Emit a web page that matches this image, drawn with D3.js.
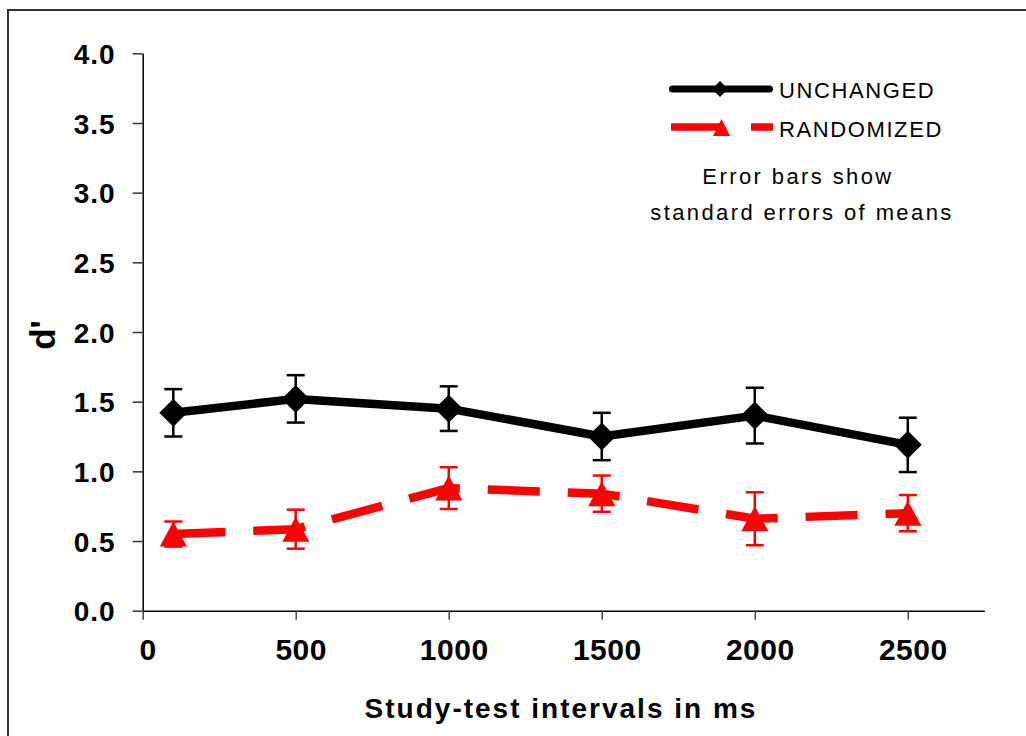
<!DOCTYPE html>
<html>
<head>
<meta charset="utf-8">
<script src="https://cdn.jsdelivr.net/npm/d3@7/dist/d3.min.js"></script>
<style>
  html, body { margin: 0; padding: 0; background: #fff; }
  svg { display: block; }
  text { font-family: "Liberation Sans", Arial, Helvetica, sans-serif; }
</style>
</head>
<body>
<svg id="chart" width="1026" height="736"></svg>
<script>
// Study-test interval (ms) for each condition
const intervals = [100, 500, 1000, 1500, 2000, 2500];
// Mean d' and standard errors, unchanged displays
const unchanged = [1.42, 1.52, 1.45, 1.25, 1.40, 1.19];
const unchangedSE = [0.17, 0.17, 0.16, 0.17, 0.20, 0.195];
// Mean d' and standard errors, randomized displays
const randomized = [0.55, 0.585, 0.88, 0.84, 0.66, 0.70];
const randomizedSE = [0.09, 0.14, 0.15, 0.13, 0.19, 0.13];
// Axis ticks
const xTicks = [0, 500, 1000, 1500, 2000, 2500];
const yTicks = [0, 0.5, 1.0, 1.5, 2.0, 2.5, 3.0, 3.5, 4.0];

const svg = d3.select("#chart");

// Outer frame
svg.append("rect")
  .attr("x", 8).attr("y", 10)
  .attr("width", 1030).attr("height", 740)
  .attr("fill", "#fff").attr("stroke", "#333").attr("stroke-width", 2);

const x = d3.scaleLinear().domain([0, 2750]).range([142.7, 984.3]);
const y = d3.scaleLinear().domain([0, 4]).range([610.7, 53.3]);

// Y axis
const yAxis = svg.append("g")
  .attr("transform", `translate(${x(0)},0)`)
  .call(d3.axisLeft(y).tickValues(yTicks).tickSize(10).tickSizeOuter(0).tickFormat(d3.format(".1f")));
yAxis.select(".domain").attr("stroke", "#000").attr("stroke-width", 1.5);
yAxis.selectAll(".tick line").attr("stroke", "#333").attr("stroke-width", 1.5);
yAxis.selectAll(".tick text")
  .attr("x", -27).attr("dy", "0.36em")
  .attr("fill", "#000")
  .style("font-family", '"Liberation Sans", Arial, sans-serif')
  .style("font-size", "28px").style("font-weight", "bold").style("letter-spacing", "1px");

// X axis
const xAxis = svg.append("g")
  .attr("transform", `translate(0,${y(0)})`)
  .call(d3.axisBottom(x).tickValues(xTicks).tickSize(9).tickSizeOuter(0).tickFormat(d3.format("d")));
xAxis.select(".domain").attr("stroke", "#000").attr("stroke-width", 1.5);
xAxis.selectAll(".tick line").attr("stroke", "#444").attr("stroke-width", 1.5);
xAxis.selectAll(".tick text")
  .attr("y", 49).attr("dy", 0).attr("dx", 5)
  .attr("fill", "#000")
  .style("font-family", '"Liberation Sans", Arial, sans-serif')
  .style("font-size", "30px").style("font-weight", "bold").style("letter-spacing", "0.5px");

// Axis titles
svg.append("text")
  .attr("x", 561).attr("y", 718)
  .attr("text-anchor", "middle")
  .style("font-size", "28px").style("font-weight", "bold").style("letter-spacing", "2px")
  .text("Study-test intervals in ms");

svg.append("text")
  .attr("transform", "translate(55,335) rotate(-90)")
  .attr("text-anchor", "middle")
  .style("font-size", "35px").style("font-weight", "bold")
  .text("d'");

// Series drawing helpers
const rows = (vals, se) => intervals.map((t, i) => ({ t, v: vals[i], se: se[i] }));
const line = d3.line().x(d => x(d.t)).y(d => y(d.v));
const diamond = (cx, cy, r) => `M${cx},${cy - r}L${cx + r},${cy}L${cx},${cy + r}L${cx - r},${cy}Z`;
const triangle = (cx, cy, w, h) => `M${cx},${cy - h / 2}L${cx + w / 2},${cy + h / 2}L${cx - w / 2},${cy + h / 2}Z`;

function errorBars(data, color) {
  const g = svg.append("g").attr("stroke", color).attr("stroke-width", 2.5);
  data.forEach(d => {
    g.append("line").attr("x1", x(d.t)).attr("x2", x(d.t)).attr("y1", y(d.v + d.se)).attr("y2", y(d.v - d.se));
    [d.v + d.se, d.v - d.se].forEach(e => {
      g.append("line").attr("x1", x(d.t) - 9).attr("x2", x(d.t) + 9).attr("y1", y(e)).attr("y2", y(e));
    });
  });
}

const unch = rows(unchanged, unchangedSE);
const rand = rows(randomized, randomizedSE);

// Unchanged series
errorBars(unch, "#000");
svg.append("path").datum(unch).attr("d", line)
  .attr("fill", "none").attr("stroke", "#000").attr("stroke-width", 8.5).attr("stroke-linejoin", "round");
svg.append("g").selectAll("path").data(unch).join("path")
  .attr("d", d => diamond(x(d.t), y(d.v), 14)).attr("fill", "#000");

// Randomized series
errorBars(rand, "#ff0000");
svg.append("path").datum(rand).attr("d", line)
  .attr("fill", "none").attr("stroke", "#ff0000").attr("stroke-width", 8.5)
  .attr("stroke-dasharray", "52,28");
svg.append("g").selectAll("path").data(rand).join("path")
  .attr("d", d => triangle(x(d.t), y(d.v), 27, 25)).attr("fill", "#ff0000");

// Legend
const lg = svg.append("g");
lg.append("line").attr("x1", 672.5).attr("x2", 769.5).attr("y1", 89).attr("y2", 89)
  .attr("stroke", "#000").attr("stroke-width", 7).attr("stroke-linecap", "round");
lg.append("path").attr("d", diamond(720, 89, 8)).attr("fill", "#000");
lg.append("text").attr("x", 779).attr("y", 98)
  .style("font-size", "22px").style("letter-spacing", "1.6px").text("UNCHANGED");

lg.append("line").attr("x1", 671).attr("x2", 773).attr("y1", 127).attr("y2", 127)
  .attr("stroke", "#ff0000").attr("stroke-width", 7.5).attr("stroke-dasharray", "52,28");
lg.append("path").attr("d", triangle(721.5, 127.5, 17, 17)).attr("fill", "#ff0000");
lg.append("text").attr("x", 779).attr("y", 137)
  .style("font-size", "22px").style("letter-spacing", "1.6px").text("RANDOMIZED");

lg.append("text").attr("x", 798).attr("y", 184).attr("text-anchor", "middle")
  .style("font-size", "22px").style("letter-spacing", "2.4px").text("Error bars show");
lg.append("text").attr("x", 802).attr("y", 220).attr("text-anchor", "middle")
  .style("font-size", "22px").style("letter-spacing", "2.4px").text("standard errors of means");
</script>
</body>
</html>
